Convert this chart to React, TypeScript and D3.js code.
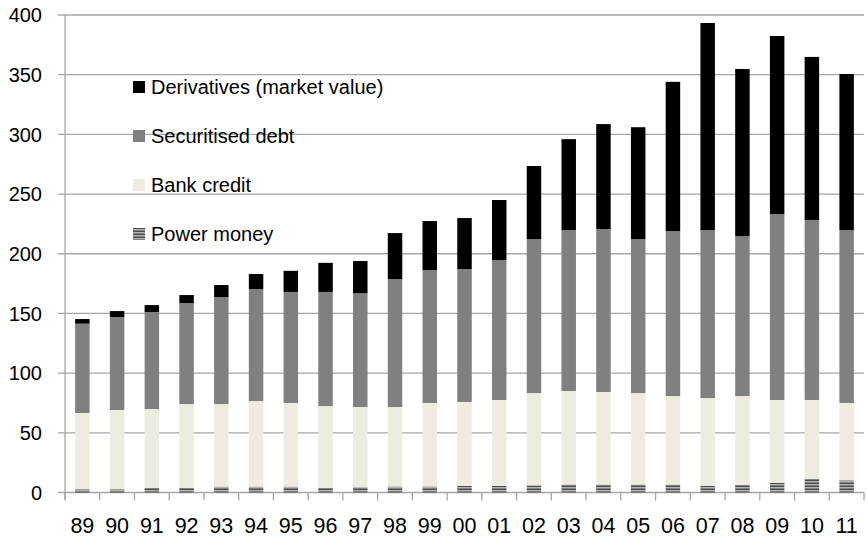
import React from "react";
import * as d3 from "d3";

const years = ["89","90","91","92","93","94","95","96","97","98","99","00","01","02","03","04","05","06","07","08","09","10","11"];
const powerMoney = [2.7,2.7,4,4,4.9,4.9,4.9,4,4.5,5,5,5.5,5.5,6,6.8,6.8,6.8,6.8,5.7,6.3,8.2,11.3,10.2];
const bankCredit = [63.9,66.4,65.9,70.1,69.2,71.7,70.1,68.4,67.1,66.6,70,70.3,72,77.3,78.2,77.4,76.5,74,73.4,74.5,69.3,66.2,64.8];
const securitisedDebt = [74.8,77.9,81.3,84.6,89.6,93.8,93,95.6,95.3,107.2,111.3,111.4,117.2,129,134.8,136.5,129,138.2,140.7,133.9,155.7,150.8,144.8];
const derivatives = [3.9,5,5.8,6.7,10.1,12.6,17.7,24.4,27,38.5,41.1,42.7,50.3,61.2,76.2,87.9,93.7,125,173.5,140.1,149.2,136.6,130.8];
const yTicks = [0,50,100,150,200,250,300,350,400];
const seriesKeys = ["power","bank","sec","deriv"];
const seriesNames: Record<string,string> = {
  deriv: "Derivatives (market value)",
  sec: "Securitised debt",
  bank: "Bank credit",
  power: "Power money",
};
const legendOrder = ["deriv","sec","bank","power"];

const W = 867, H = 536;
const left = 65, right = 864, top = 15, bottom = 492.5;
const FONT = "'Liberation Sans', Arial, sans-serif";

export default function App() {
  const rows = years.map((yr, i) => ({
    year: yr,
    power: powerMoney[i],
    bank: bankCredit[i],
    sec: securitisedDebt[i],
    deriv: derivatives[i],
  }));
  const x = d3.scaleBand<string>().domain(years).range([left, right]).paddingInner(0.583).paddingOuter(0.2915);
  const y = d3.scaleLinear().domain([0, 400]).range([bottom, top]);
  const stack = d3.stack<any>().keys(seriesKeys);
  const layers = stack(rows);
  const fills: Record<string,string> = {
    deriv: "#000000",
    sec: "#808080",
    bank: "#eeece1",
    power: "url(#pm)",
  };
  const step = (right - left) / years.length;
  const boundaries = d3.range(years.length + 1).map((i) => left + i * step);

  return (
    <svg width={W} height={H} style={{ position: "absolute", left: 0, top: 0, background: "#fff" }} fontFamily={FONT}>
      <defs>
        <pattern id="pm" patternUnits="userSpaceOnUse" width={4} height={3}>
          <rect x={0} y={0} width={4} height={3} fill="#ffffff" />
          <rect x={0} y={0} width={4} height={1} fill="#4d4d4d" />
          <rect x={0} y={1} width={4} height={1} fill="#b3b3b3" />
          <rect x={0} y={2} width={4} height={1} fill="#808080" />
        </pattern>
      </defs>
      {yTicks.map((t) => (
        <line key={"g" + t} x1={58} x2={right} y1={y(t)} y2={y(t)} stroke="#a6a6a6" strokeWidth={1.3} />
      ))}
      <line x1={left} x2={left} y1={top} y2={bottom + 7} stroke="#a6a6a6" strokeWidth={1.3} />
      {boundaries.map((bx, i) => (
        <line key={"t" + i} x1={bx} x2={bx} y1={bottom} y2={bottom + 8} stroke="#a6a6a6" strokeWidth={1.3} />
      ))}
      {layers.map((layer) => (
        <g key={layer.key} fill={fills[layer.key]}>
          {layer.map((d, i) => (
            <rect
              key={i}
              x={x(years[i])!}
              width={x.bandwidth()}
              y={y(d[1])}
              height={y(d[0]) - y(d[1])}
            />
          ))}
        </g>
      ))}
      {yTicks.map((t) => (
        <text key={"yl" + t} x={42} y={y(t)} dy="0.36em" textAnchor="end" fontSize={20} fill="#000">
          {t}
        </text>
      ))}
      {years.map((yr) => (
        <text key={"xl" + yr} x={x(yr)! + x.bandwidth() / 2} y={532.5} textAnchor="middle" fontSize={21.5} fill="#000">
          {yr}
        </text>
      ))}
      {legendOrder.map((k, i) => {
        const cy = 87 + i * 49;
        return (
          <g key={"lg" + k}>
            <rect x={133} y={cy - 6} width={12} height={12} fill={fills[k]} />
            <text x={151} y={cy} dy="0.36em" fontSize={20} fill="#000">
              {seriesNames[k]}
            </text>
          </g>
        );
      })}
    </svg>
  );
}
